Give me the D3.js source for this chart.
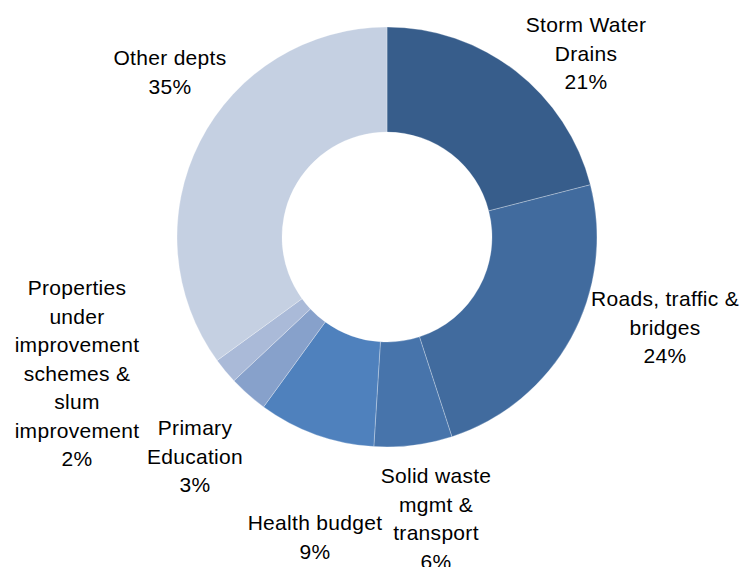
<!DOCTYPE html>
<html>
<head>
<meta charset="utf-8">
<script src="https://cdnjs.cloudflare.com/ajax/libs/d3/7.8.5/d3.min.js"></script>
<style>
  html, body { margin: 0; padding: 0; background: #fff; }
  svg { display: block; }
  text { font-family: "Liberation Sans", Arial, sans-serif; fill: #000; }
</style>
</head>
<body>
<svg id="chart" width="741" height="567"></svg>
<script>
// Budget share by department (percent), drawn clockwise from 12 o'clock
const categories = [
  "Storm Water Drains",
  "Roads, traffic & bridges",
  "Solid waste mgmt & transport",
  "Health budget",
  "Primary Education",
  "Properties under improvement schemes & slum improvement",
  "Other depts"
];
const values = [21, 24, 6, 9, 3, 2, 35];
const percentLabels = ["21%", "24%", "6%", "9%", "3%", "2%", "35%"];
// Wrapped label lines as they appear beside each slice
const labelLines = [
  ["Storm Water", "Drains"],
  ["Roads, traffic &", "bridges"],
  ["Solid waste", "mgmt &", "transport"],
  ["Health budget"],
  ["Primary", "Education"],
  ["Properties", "under", "improvement", "schemes &", "slum", "improvement"],
  ["Other depts"]
];
const colors = ["#375d8b", "#416b9e", "#4774ab", "#4f81bd", "#87a1cb", "#aabad8", "#c5d0e2"];

// Layout
const cx = 387, cy = 237, outerR = 210, innerR = 105;
// Anchor (centre x, first baseline y) for each label block
const labelAnchors = [
  [586, 32], [665, 306], [436, 483], [315, 530], [195, 435], [77, 295], [170, 65]
];
const lineStep = 28.5;

const svg = d3.select("#chart");
const g = svg.append("g").attr("transform", `translate(${cx},${cy})`);

const pie = d3.pie().sort(null).value(d => d)(values);
const arc = d3.arc().innerRadius(innerR).outerRadius(outerR);

g.selectAll("path.slice")
  .data(pie)
  .join("path")
  .attr("class", "slice")
  .attr("d", arc)
  .attr("fill", (d, i) => colors[i])
  .attr("stroke", "rgba(255,255,255,0.35)")
  .attr("stroke-width", 0.8);

const labels = svg.append("g")
  .attr("font-size", 21)
  .attr("letter-spacing", 0.3)
  .attr("text-anchor", "middle");

categories.forEach((c, i) => {
  const [x, y] = labelAnchors[i];
  const lines = labelLines[i].concat([percentLabels[i]]);
  const t = labels.append("text").attr("x", x).attr("y", y);
  lines.forEach((ln, k) => {
    t.append("tspan").attr("x", x).attr("y", y + k * lineStep).text(ln);
  });
});
</script>
</body>
</html>
